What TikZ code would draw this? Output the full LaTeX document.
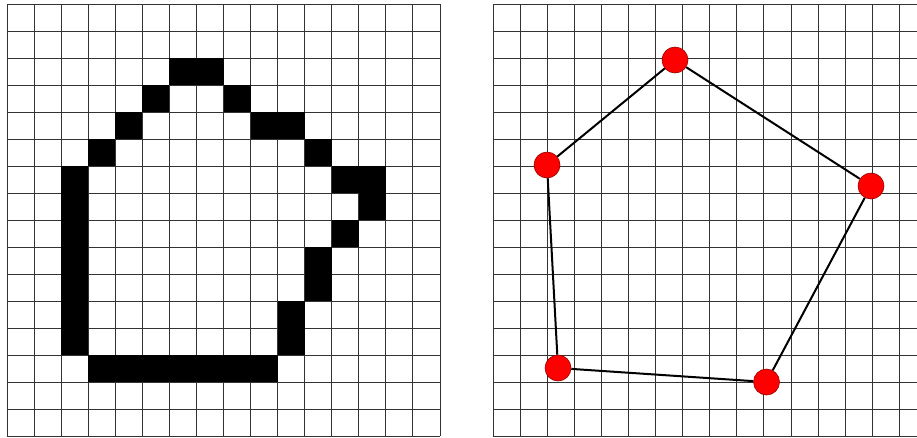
\documentclass[tikz,border=0pt]{standalone}
\begin{document}
\begin{tikzpicture}[x=1pt,y=-1pt,
  gridline/.style={draw=black!80,line width=1pt},
  vertex/.style={circle,fill=red,draw=red!60!black,line width=0.6pt,minimum size=26pt,inner sep=0pt},
  edge/.style={draw=black,line width=2pt}]
\useasboundingbox (0,0) rectangle (917,437);
\fill[white] (0,0) rectangle (917,437);
% left grid: origin (7,4), cell 27.06 x 27
\def\cw{27.0625}
\def\ch{27}
\foreach \k in {0,...,16} {
  \draw[gridline] ({7+\k*\cw},4) -- ({7+\k*\cw},436);
  \draw[gridline] (7,{4+\k*\ch}) -- (440,{4+\k*\ch});
}
\foreach \c/\r in {6/2,7/2, 5/3,8/3, 4/4,9/4,10/4, 3/5,11/5, 2/6,12/6,13/6, 2/7,13/7, 2/8,12/8, 2/9,11/9, 2/10,11/10, 2/11,10/11, 2/12,10/12, 3/13,4/13,5/13,6/13,7/13,8/13,9/13}
  \fill[black] ({7+\c*\cw},{4+\r*\ch}) rectangle ({7+(\c+1)*\cw},{4+(\r+1)*\ch});
% right grid: origin (493.3,4), clipped at the picture edge
\foreach \k in {0,...,15}
  \draw[gridline] ({493.3+\k*\cw},4) -- ({493.3+\k*\cw},436);
\foreach \k in {0,...,16}
  \draw[gridline] (493.3,{4+\k*\ch}) -- (917,{4+\k*\ch});
% polygon
\node[vertex] (a) at (675,60) {};
\node[vertex] (b) at (871,186) {};
\node[vertex] (c) at (766.5,382) {};
\node[vertex] (d) at (558,368) {};
\node[vertex] (e) at (547,165) {};
\draw[edge] (e) -- (a);
\draw[edge] (a) -- (b);
\draw[edge] (b) -- (c);
\draw[edge] (c) -- (d);
\draw[edge] (d) -- (e);
\end{tikzpicture}
\end{document}
